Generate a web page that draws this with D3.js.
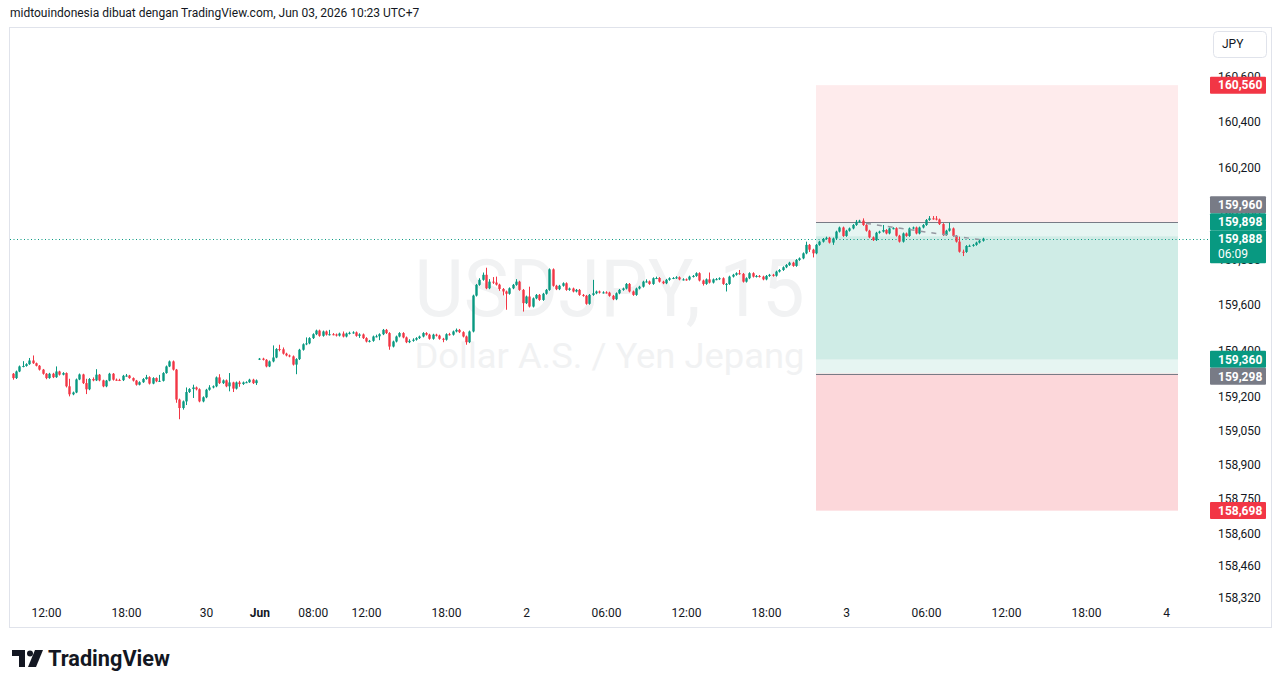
<!DOCTYPE html>
<html>
<head>
<meta charset="utf-8">
<script src="https://cdn.jsdelivr.net/npm/d3@7"></script>
<style>
  body { margin: 0; background: #ffffff; }
  svg text { font-family: Roboto, "Noto Sans", sans-serif; }
</style>
</head>
<body>
<script>
// USDJPY 15m, bar index 0 = Fri May 29 09:30 (UTC+7), bar 74 = Mon Jun 1 04:00
var firstOpen = 159.297;
var sessionOpens = [[74, 159.360]];   // open price after the weekend gap

var closes = [
  159.278,159.307,159.329,159.331,159.339,159.355,159.343,159.332,159.315,159.297,
  159.278,159.297,159.282,159.307,159.293,159.300,159.242,159.207,159.215,159.272,
  159.294,159.256,159.229,159.274,159.268,159.293,159.268,159.242,159.267,159.297,
  159.271,159.270,159.269,159.288,159.289,159.278,159.267,159.249,159.260,159.274,
  159.282,159.254,159.278,159.264,159.266,159.300,159.329,159.351,159.315,159.184,
  159.147,159.176,159.217,159.230,159.237,159.229,159.176,159.194,159.227,159.237,
  159.242,159.281,159.256,159.268,159.242,159.259,159.232,159.259,159.252,159.259,
  159.260,159.271,159.256,159.268,159.363,159.358,159.329,159.351,159.368,159.405,
  159.404,159.385,159.377,159.373,159.337,159.361,159.402,159.426,159.430,159.453,
  159.470,159.486,159.463,159.482,159.468,159.470,159.469,159.464,159.473,159.460,
  159.473,159.476,159.478,159.463,159.469,159.453,159.438,159.441,159.460,159.461,
  159.470,159.489,159.475,159.416,159.438,159.460,159.475,159.456,159.435,159.441,
  159.446,159.453,159.460,159.475,159.468,159.450,159.468,159.464,159.450,159.446,
  159.470,159.468,159.482,159.489,159.479,159.460,159.435,159.482,159.639,159.686,
  159.708,159.730,159.671,159.700,159.696,159.687,159.668,159.657,159.647,159.671,
  159.686,159.700,159.664,159.606,159.635,159.591,159.627,159.642,159.620,159.647,
  159.664,159.754,159.682,159.667,159.682,159.693,159.664,159.670,159.657,159.664,
  159.642,159.638,159.603,159.642,159.649,159.657,159.652,159.653,159.652,159.638,
  159.623,159.649,159.664,159.670,159.690,159.657,159.642,159.670,159.678,159.700,
  159.701,159.690,159.715,159.716,159.700,159.693,159.708,159.715,159.716,159.719,
  159.710,159.710,159.709,159.722,159.725,159.737,159.705,159.690,159.710,159.696,
  159.710,159.711,159.715,159.690,159.690,159.722,159.730,159.737,159.734,159.700,
  159.715,159.737,159.722,159.725,159.722,159.710,159.725,159.730,159.726,159.744,
  159.751,159.763,159.773,159.783,159.769,159.795,159.802,159.824,159.861,159.840,
  159.824,159.861,159.875,159.887,159.892,159.871,159.889,159.919,159.937,159.900,
  159.923,159.933,159.948,159.962,159.967,159.948,159.923,159.894,159.882,159.914,
  159.919,159.926,159.911,159.933,159.934,159.901,159.875,159.911,159.900,159.933,
  159.937,159.911,159.937,159.948,159.970,159.977,159.976,159.972,159.952,159.904,
  159.923,159.933,159.900,159.875,159.831,159.830,159.856,159.857,159.861,159.871,
  159.879,159.888
];

var highs = [
  159.300,159.311,159.333,159.352,159.343,159.366,159.377,159.346,159.335,159.318,
  159.300,159.301,159.301,159.329,159.310,159.304,159.303,159.275,159.219,159.276,
  159.298,159.297,159.275,159.278,159.281,159.317,159.296,159.271,159.270,159.301,
  159.300,159.276,159.275,159.292,159.296,159.292,159.281,159.270,159.264,159.278,
  159.292,159.286,159.282,159.281,159.292,159.304,159.333,159.355,159.355,159.318,
  159.188,159.180,159.237,159.234,159.249,159.241,159.233,159.198,159.231,159.247,
  159.246,159.285,159.295,159.272,159.272,159.300,159.262,159.263,159.266,159.263,
  159.264,159.275,159.275,159.272,159.366,159.367,159.361,159.355,159.421,159.409,
  159.424,159.412,159.389,159.381,159.377,159.365,159.406,159.430,159.456,159.457,
  159.474,159.490,159.490,159.486,159.486,159.489,159.475,159.473,159.477,159.482,
  159.477,159.481,159.483,159.482,159.474,159.473,159.457,159.445,159.464,159.468,
  159.474,159.493,159.493,159.479,159.442,159.464,159.479,159.479,159.460,159.448,
  159.452,159.457,159.464,159.479,159.479,159.472,159.472,159.472,159.468,159.454,
  159.474,159.476,159.486,159.495,159.493,159.483,159.464,159.486,159.643,159.690,
  159.715,159.740,159.761,159.711,159.720,159.722,159.691,159.672,159.661,159.675,
  159.690,159.711,159.704,159.668,159.639,159.678,159.631,159.646,159.646,159.651,
  159.668,159.758,159.758,159.686,159.686,159.697,159.697,159.674,159.674,159.668,
  159.668,159.646,159.642,159.646,159.708,159.661,159.661,159.658,159.658,159.656,
  159.642,159.653,159.668,159.674,159.694,159.694,159.661,159.674,159.682,159.704,
  159.710,159.705,159.719,159.722,159.720,159.704,159.712,159.719,159.720,159.724,
  159.723,159.715,159.714,159.726,159.729,159.741,159.741,159.709,159.714,159.740,
  159.714,159.716,159.719,159.719,159.694,159.726,159.734,159.741,159.751,159.738,
  159.719,159.741,159.741,159.729,159.729,159.726,159.729,159.734,159.734,159.748,
  159.755,159.767,159.777,159.787,159.787,159.799,159.806,159.828,159.875,159.865,
  159.844,159.865,159.879,159.891,159.897,159.896,159.893,159.923,159.941,159.941,
  159.927,159.937,159.952,159.970,159.971,159.977,159.952,159.927,159.898,159.918,
  159.923,159.948,159.930,159.937,159.938,159.938,159.905,159.915,159.915,159.937,
  159.941,159.941,159.941,159.952,159.974,159.987,159.987,159.987,159.976,159.956,
  159.927,159.958,159.937,159.904,159.897,159.840,159.860,159.862,159.865,159.875,
  159.883,159.892
];

var lows = [
  159.271,159.274,159.304,159.325,159.328,159.336,159.340,159.329,159.311,159.293,
  159.273,159.275,159.278,159.279,159.289,159.290,159.237,159.198,159.203,159.212,
  159.269,159.252,159.208,159.225,159.264,159.265,159.264,159.238,159.238,159.264,
  159.267,159.266,159.265,159.265,159.284,159.275,159.263,159.245,159.246,159.257,
  159.271,159.250,159.251,159.260,159.261,159.263,159.297,159.326,159.311,159.170,
  159.098,159.140,159.160,159.213,159.191,159.224,159.172,159.172,159.190,159.223,
  159.233,159.238,159.252,159.252,159.238,159.220,159.217,159.228,159.240,159.248,
  159.256,159.257,159.252,159.248,159.357,159.355,159.325,159.326,159.347,159.365,
  159.395,159.381,159.373,159.369,159.333,159.295,159.357,159.398,159.422,159.426,
  159.449,159.466,159.459,159.459,159.464,159.464,159.465,159.460,159.460,159.456,
  159.456,159.469,159.472,159.459,159.454,159.449,159.434,159.434,159.437,159.456,
  159.444,159.466,159.471,159.402,159.412,159.434,159.456,159.452,159.431,159.431,
  159.437,159.442,159.449,159.456,159.464,159.446,159.446,159.460,159.446,159.435,
  159.442,159.464,159.464,159.478,159.475,159.456,159.424,159.431,159.478,159.635,
  159.682,159.704,159.667,159.667,159.690,159.683,159.660,159.640,159.577,159.643,
  159.667,159.682,159.660,159.569,159.602,159.587,159.587,159.623,159.616,159.616,
  159.643,159.660,159.678,159.663,159.663,159.678,159.660,159.660,159.653,159.653,
  159.638,159.634,159.599,159.599,159.638,159.645,159.648,159.648,159.648,159.634,
  159.619,159.619,159.645,159.660,159.666,159.653,159.638,159.638,159.666,159.674,
  159.696,159.686,159.686,159.711,159.696,159.689,159.689,159.704,159.711,159.712,
  159.706,159.705,159.704,159.705,159.718,159.721,159.701,159.683,159.686,159.692,
  159.692,159.706,159.707,159.686,159.657,159.686,159.718,159.726,159.730,159.696,
  159.696,159.711,159.718,159.718,159.718,159.706,159.706,159.721,159.722,159.722,
  159.740,159.747,159.759,159.769,159.765,159.765,159.791,159.798,159.820,159.830,
  159.806,159.820,159.857,159.871,159.883,159.867,159.861,159.885,159.915,159.896,
  159.896,159.919,159.929,159.944,159.958,159.944,159.919,159.890,159.878,159.878,
  159.910,159.915,159.907,159.907,159.929,159.897,159.871,159.871,159.896,159.896,
  159.929,159.907,159.907,159.933,159.944,159.966,159.971,159.968,159.948,159.900,
  159.900,159.919,159.896,159.871,159.827,159.812,159.826,159.852,159.853,159.857,
  159.867,159.875
];

// time axis (bar index -> label)
var timeTickBars   = [10, 34, 58, 74, 90, 106, 130, 154, 178, 202, 226, 250, 274, 298, 322, 346];
var timeTickLabels = ["12:00","18:00","30","Jun","08:00","12:00","18:00","2","06:00","12:00","18:00","3","06:00","12:00","18:00","4"];
var monthLabels = ["Jun"];

// price axis
var priceTicks = [160.6, 160.4, 160.2, 160.0, 159.8, 159.6, 159.4, 159.2, 159.05, 158.9, 158.75, 158.6, 158.46, 158.32];

// position tools (short above, long below)
var shortPos = {entry: 159.960, stop: 160.560, target: 159.360, fromBar: 241, toBar: 349.6};
var longPos  = {entry: 159.298, stop: 158.698, target: 159.898, fromBar: 241, toBar: 349.6};

// projected path drawing
var projBars   = [256, 290];
var projPrices = [159.955, 159.884];

var lastPrice = 159.888;
var countdown = "06:09";
var headerText = "midtouindonesia dibuat dengan TradingView.com, Jun 03, 2026 10:23 UTC+7";
var symbolText = "USDJPY, 15";
var descText = "Dollar A.S. / Yen Jepang";
var currency = "JPY";

// ---------------------------------------------------------------
var W = 1281, H = 688;
var pane = {left: 10, right: 1209, top: 28, bottom: 627};
var UP = "#089981", DOWN = "#f23645", GREY = "#787b86", TEXT = "#131722";

var x = d3.scaleLinear().domain([0, 346]).range([12.7, 1166]);
var y = d3.scaleLinear().domain([158.32, 160.6]).range([597, 76]);
var priceFmt = function(v) { return d3.format(".3f")(v).replace(".", ","); };

var bars = closes.map(function(c, i) {
    var o = i === 0 ? firstOpen : closes[i - 1];
    sessionOpens.forEach(function(s) { if (s[0] === i) o = s[1]; });
    return {i: i, o: o, h: highs[i], l: lows[i], c: c};
});

var svg = d3.select("body").append("svg")
    .attr("width", W).attr("height", H);

svg.append("rect").attr("width", W).attr("height", H).attr("fill", "#ffffff");

// header
svg.append("text")
    .attr("x", 10).attr("y", 17)
    .attr("font-size", 12).attr("fill", TEXT)
    .text(headerText);

// outer frame
svg.append("rect")
    .attr("x", 9.5).attr("y", 27.5)
    .attr("width", 1262).attr("height", 600)
    .attr("fill", "none").attr("stroke", "#e0e3eb");

svg.append("clipPath").attr("id", "clip")
  .append("rect")
    .attr("x", pane.left).attr("y", pane.top)
    .attr("width", pane.right - pane.left).attr("height", pane.bottom - pane.top);

var plot = svg.append("g").attr("clip-path", "url(#clip)");

// watermark
var cx = (pane.left + pane.right) / 2;
plot.append("text")
    .attr("x", cx).attr("y", 316)
    .attr("text-anchor", "middle")
    .attr("font-size", 79)
    .attr("textLength", 390).attr("lengthAdjust", "spacingAndGlyphs")
    .attr("fill", "#f1f2f3")
    .text(symbolText);
plot.append("text")
    .attr("x", cx).attr("y", 368)
    .attr("text-anchor", "middle")
    .attr("font-size", 35)
    .attr("textLength", 390).attr("lengthAdjust", "spacingAndGlyphs")
    .attr("fill", "#f1f2f3")
    .text(descText);

// position tools
function zone(top, bottom, p, fill) {
    plot.append("rect")
        .attr("x", x(p.fromBar)).attr("width", x(p.toBar) - x(p.fromBar))
        .attr("y", y(top)).attr("height", y(bottom) - y(top))
        .attr("fill", fill);
}
zone(shortPos.stop, shortPos.entry, shortPos, "rgba(242,54,69,0.1)");
zone(shortPos.entry, shortPos.target, shortPos, "rgba(8,153,129,0.1)");
zone(longPos.target, longPos.entry, longPos, "rgba(8,153,129,0.1)");
zone(longPos.entry, longPos.stop, longPos, "rgba(242,54,69,0.2)");

[shortPos, longPos].forEach(function(p) {
    plot.append("line")
        .attr("x1", x(p.fromBar)).attr("x2", x(p.toBar))
        .attr("y1", Math.round(y(p.entry)) + 0.5).attr("y2", Math.round(y(p.entry)) + 0.5)
        .attr("stroke", GREY).attr("stroke-width", 1);
});

// last price dotted line
plot.append("line")
    .attr("x1", pane.left).attr("x2", pane.right)
    .attr("y1", Math.round(y(lastPrice)) + 0.5).attr("y2", Math.round(y(lastPrice)) + 0.5)
    .attr("stroke", UP).attr("stroke-dasharray", "1,2.5");

// candles
var candle = plot.append("g").selectAll("g")
    .data(bars)
    .enter().append("g");

candle.append("line")
    .attr("x1", function(d) { return Math.round(x(d.i)) + 0.5; })
    .attr("x2", function(d) { return Math.round(x(d.i)) + 0.5; })
    .attr("y1", function(d) { return y(d.h); })
    .attr("y2", function(d) { return y(d.l); })
    .attr("stroke", function(d) { return d.c >= d.o ? UP : DOWN; })
    .attr("stroke-width", 1);

candle.append("rect")
    .attr("x", function(d) { return Math.round(x(d.i)) - 0.7; })
    .attr("width", 2.4)
    .attr("y", function(d) { return y(Math.max(d.o, d.c)); })
    .attr("height", function(d) { return Math.max(1, Math.abs(y(d.o) - y(d.c))); })
    .attr("fill", function(d) { return d.c >= d.o ? UP : DOWN; });

// projected path
plot.append("line")
    .attr("x1", x(projBars[0])).attr("y1", y(projPrices[0]))
    .attr("x2", x(projBars[1])).attr("y2", y(projPrices[1]))
    .attr("stroke", "#9598a1").attr("stroke-width", 1.5)
    .attr("stroke-dasharray", "5,6");

// time axis
var xAxis = d3.axisBottom(x)
    .tickValues(timeTickBars)
    .tickFormat(function(d, i) { return timeTickLabels[i]; })
    .tickSize(0);

var gx = svg.append("g").attr("transform", "translate(0,613)").call(xAxis);
gx.select(".domain").remove();
gx.selectAll("text")
    .attr("y", 0).attr("dy", "0.35em")
    .attr("font-size", 12)
    .attr("font-family", "Roboto, sans-serif")
    .attr("fill", TEXT)
    .attr("font-weight", function(d, i) { return monthLabels.indexOf(timeTickLabels[i]) >= 0 ? 700 : 400; });

// price axis
var yAxis = d3.axisRight(y)
    .tickValues(priceTicks)
    .tickFormat(priceFmt)
    .tickSize(0);

var gy = svg.append("g").attr("transform", "translate(1218,0)").call(yAxis);
gy.select(".domain").remove();
gy.selectAll("text")
    .attr("x", 0).attr("dy", "0.35em")
    .attr("font-size", 12)
    .attr("font-family", "Roboto, sans-serif")
    .attr("fill", TEXT);

// currency button
svg.append("rect")
    .attr("x", 1213.5).attr("y", 31.5).attr("width", 53).attr("height", 26).attr("rx", 4)
    .attr("fill", "#ffffff").attr("stroke", "#e0e3eb");
svg.append("text")
    .attr("x", 1222).attr("y", 44).attr("dy", "0.35em")
    .attr("font-size", 12).attr("fill", TEXT)
    .text(currency);

// price labels on the axis, stacked around the last-price label
var labels = [
    {v: shortPos.stop, c: DOWN},
    {v: shortPos.entry, c: GREY},
    {v: longPos.target, c: UP},
    {v: lastPrice, c: UP, last: true},
    {v: shortPos.target, c: UP},
    {v: longPos.entry, c: GREY},
    {v: longPos.stop, c: DOWN}
];
var lh = 17;
labels.forEach(function(l) { l.y = y(l.v); l.h = l.last ? 33 : lh; l.top = l.y - lh / 2; });
var li = labels.findIndex(function(l) { return l.last; });
for (var k = li - 1; k >= 0; k--) {
    var below = labels[k + 1];
    if (labels[k].top + labels[k].h > below.top) labels[k].top = below.top - labels[k].h;
}
for (var k2 = li + 1; k2 < labels.length; k2++) {
    var above = labels[k2 - 1];
    if (labels[k2].top < above.top + above.h) labels[k2].top = above.top + above.h;
}
var gl = svg.append("g");
labels.forEach(function(l) {
    gl.append("rect")
        .attr("x", 1210).attr("y", l.top)
        .attr("width", 56).attr("height", l.h)
        .attr("rx", 1)
        .attr("fill", l.c);
    gl.append("text")
        .attr("x", 1218).attr("y", l.top + lh / 2).attr("dy", "0.35em")
        .attr("font-size", 12).attr("font-weight", 700).attr("fill", "#ffffff")
        .text(priceFmt(l.v));
    if (l.last) {
        gl.append("text")
            .attr("x", 1218).attr("y", l.top + lh / 2 + 15).attr("dy", "0.35em")
            .attr("font-size", 12).attr("fill", "#ffffff")
            .text(countdown);
    }
});

// logo
var logo = svg.append("g").attr("fill", TEXT);
logo.append("path").attr("d", "M12,650 H25 V667 H19 V656 H12 Z");
logo.append("circle").attr("cx", 30).attr("cy", 653.5).attr("r", 3);
logo.append("path").attr("d", "M35,650 H43 L36,667 H28 Z");
logo.append("text")
    .attr("x", 48).attr("y", 666)
    .attr("font-size", 21.7).attr("font-weight", 700)
    .text("TradingView");
</script>
</body>
</html>
